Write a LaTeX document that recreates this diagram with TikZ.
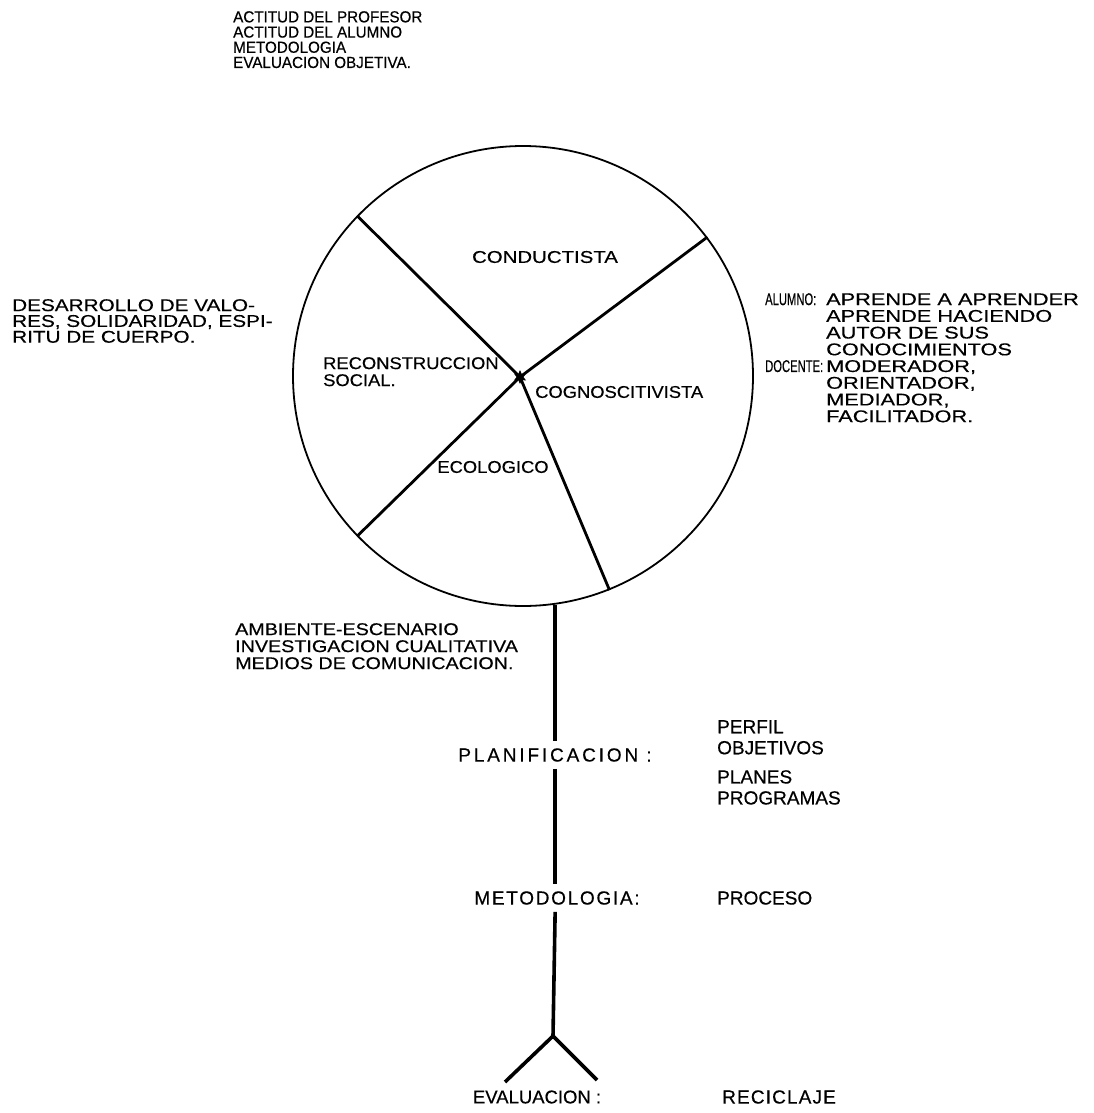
\documentclass[tikz,border=0pt]{standalone}
\usepackage{fontspec}
\usepackage{array}
\usetikzlibrary{shapes.geometric}
\setmainfont{Liberation Sans}
\newfontfamily\ftop[FakeStretch=0.95,FakeBold=0.4]{Liberation Sans}
\newfontfamily\fdes[FakeStretch=1.22,FakeBold=0.4]{Liberation Sans}
\newfontfamily\fcola[FakeStretch=0.66,FakeBold=0.4]{Liberation Sans}
\newfontfamily\fcolb[FakeStretch=1.28,FakeBold=0.4]{Liberation Sans}
\newfontfamily\famb[FakeStretch=1.16,FakeBold=0.4]{Liberation Sans}
\newfontfamily\fcond[FakeStretch=1.2,FakeBold=0.4]{Liberation Sans}
\newfontfamily\fin[FakeStretch=1.08,FakeBold=0.4]{Liberation Sans}
\newfontfamily\flow[FakeBold=0.4]{Liberation Sans}
\begin{document}
\begin{tikzpicture}[x=1pt,y=-1pt,
  rim/.style={line width=1.8pt},
  spoke/.style={line width=2.8pt},
  stem/.style={line width=3.6pt},
  lbl/.style={inner sep=0pt, align=left},
  toptxt/.style={lbl, font=\ftop\fontsize{16}{15.2}\selectfont},
  destxt/.style={lbl, font=\fdes\fontsize{17}{15.8}\selectfont},
  ambtxt/.style={lbl, font=\famb\fontsize{17}{17}\selectfont},
  intxt/.style={lbl, font=\fin\fontsize{17}{17}\selectfont},
  lowtxt/.style={lbl, font=\flow\fontsize{19}{21}\selectfont},
  steplbl/.style={inner xsep=0pt, inner ysep=7pt}]
\useasboundingbox (0,0) rectangle (1093,1113);

% circle and spokes
\node[circle, draw, rim, minimum size=460pt, inner sep=0pt] (C) at (523,376) {};
\draw[spoke] (520,377) -- (C.136);
\draw[spoke] (520,377) -- (C.37.5);
\draw[spoke] (520,377) -- (C.224);
\draw[spoke] (520,377) -- (C.292);
\node[star, star points=6, star point ratio=2, fill, inner sep=0pt, minimum size=14pt] (hub) at (520,377) {};

% labels inside circle
\node[intxt, font=\fcond\fontsize{17}{17}\selectfont] (cond) at (545,257) {CONDUCTISTA};
\node[intxt, anchor=north west] (recon) at (323,357) {RECONSTRUCCION\\SOCIAL.};
\node[intxt, anchor=west] (cogn) at (535,392) {COGNOSCITIVISTA};
\node[intxt] (eco) at (493,467) {ECOLOGICO};

% outside text blocks
\node[toptxt, anchor=north west] (top) at (233,11)
  {ACTITUD DEL PROFESOR\\ACTITUD DEL ALUMNO\\METODOLOGIA\\EVALUACION OBJETIVA.};
\node[destxt, anchor=north west] (des) at (12,299)
  {DESARROLLO DE VALO-\\RES, SOLIDARIDAD, ESPI-\\RITU DE CUERPO.};
\node[lbl, anchor=north west, font=\fontsize{17}{16.2}\selectfont] (alu) at (765,293)
  {\begin{tabular}{@{}>{\fcola}l@{\hspace{3pt}}>{\fcolb}l@{}}
   ALUMNO: & APRENDE A APRENDER\\
           & APRENDE HACIENDO\\
           & AUTOR DE SUS\\
           & CONOCIMIENTOS\\
   DOCENTE: & MODERADOR,\\
           & ORIENTADOR,\\
           & MEDIADOR,\\
           & FACILITADOR.
   \end{tabular}};
\node[ambtxt, anchor=north west] (amb) at (235,623)
  {AMBIENTE-ESCENARIO\\INVESTIGACION CUALITATIVA\\MEDIOS DE COMUNICACION.};

% stem labels
\node[steplbl, font=\flow\fontsize{19}{21}\selectfont\addfontfeature{LetterSpace=15}] (plan) at (555,755) {PLANIFICACION :};
\node[steplbl, font=\flow\fontsize{19}{21}\selectfont\addfontfeature{LetterSpace=9}] (meto) at (557,898) {METODOLOGIA:};
\node[steplbl, font=\flow\fontsize{18.5}{21}\selectfont] (eval) at (537,1097) {EVALUACION :};

\node[lowtxt, anchor=north west] (perf) at (717,720) {PERFIL\\OBJETIVOS};
\node[lowtxt, anchor=north west] (plns) at (717,770) {PLANES\\PROGRAMAS};
\node[lowtxt, anchor=west] (proc) at (717,898) {PROCESO};
\node[lowtxt, anchor=west, font=\flow\fontsize{19}{21}\selectfont\addfontfeature{LetterSpace=6}] (recl) at (722,1097) {RECICLAJE};

% stem
\coordinate (fork) at (553,1036);
\coordinate (fl) at (505,1082);
\coordinate (fr) at (597,1080);
\draw[stem] (C.278) -- (C.278 |- plan.north);
\draw[stem] (C.278 |- plan.south) -- (C.278 |- meto.north);
\draw[stem] (C.278 |- meto.south) -- (fork);
\draw[stem] (fl) -- (fork) -- (fr);
\end{tikzpicture}
\end{document}
